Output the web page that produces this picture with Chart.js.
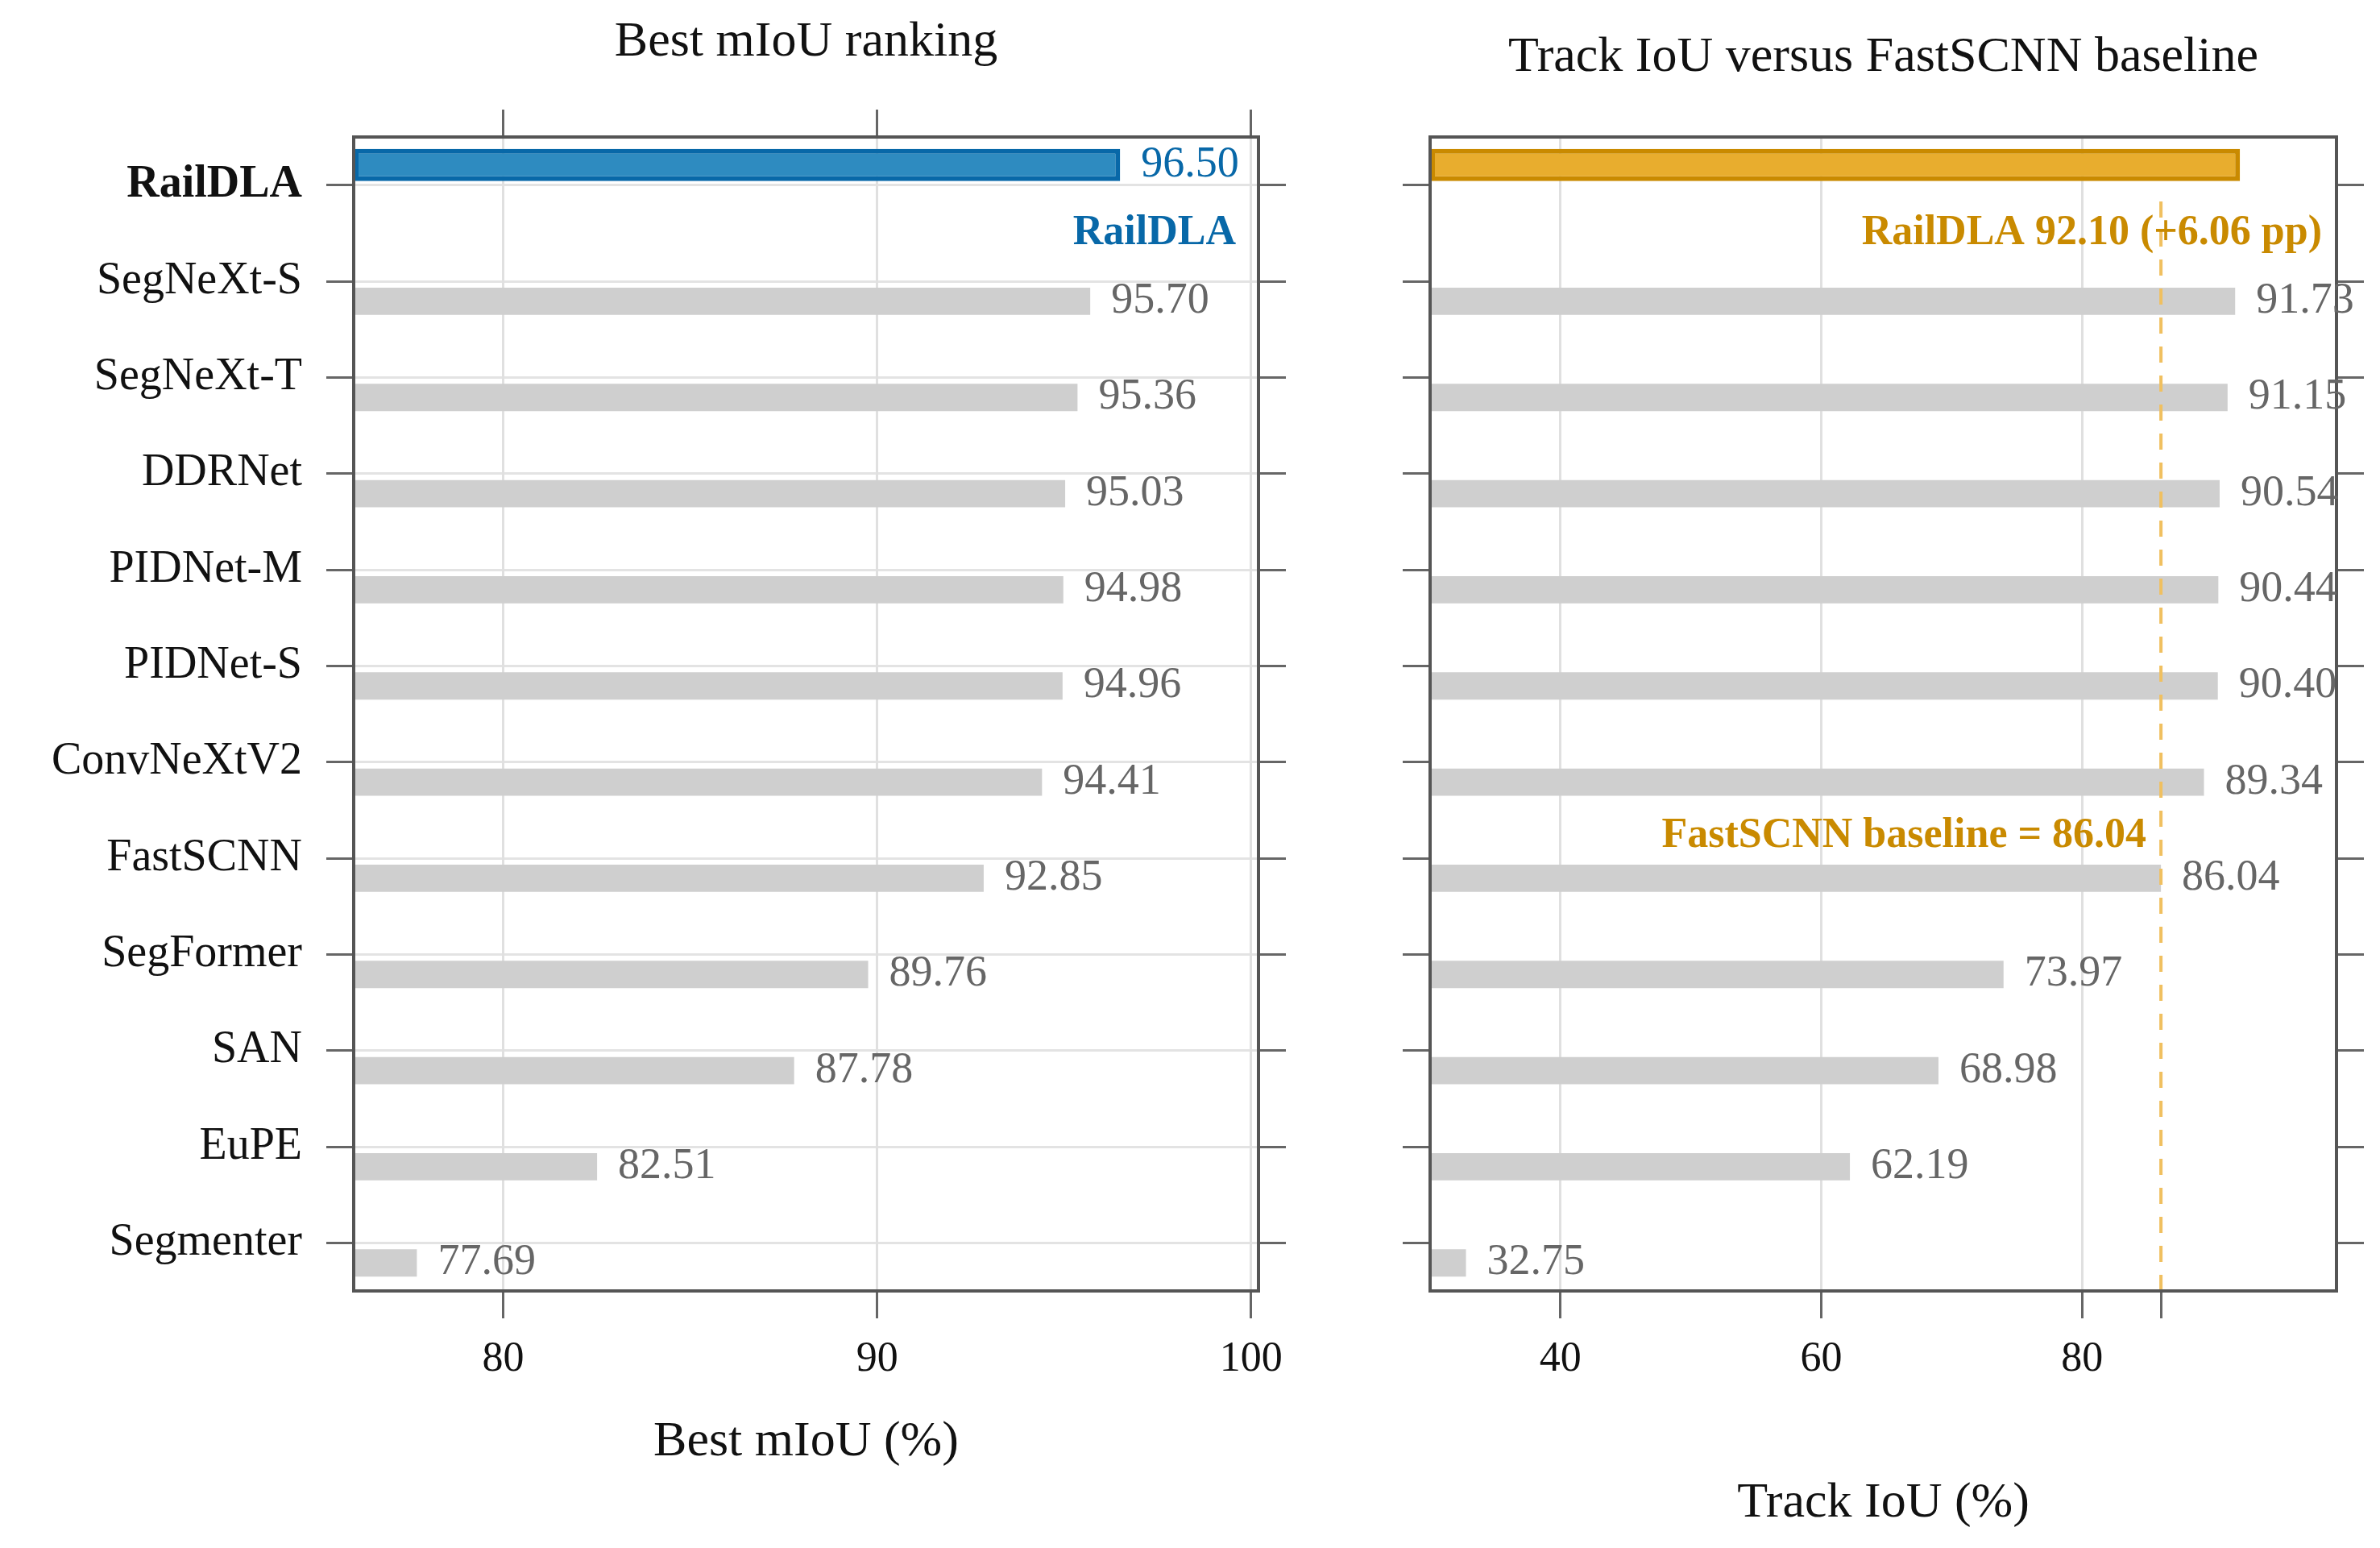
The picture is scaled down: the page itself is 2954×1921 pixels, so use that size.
<!DOCTYPE html>
<html><head><meta charset="utf-8">
<script src="https://cdn.jsdelivr.net/npm/chart.js@4"></script>
<style>html,body{margin:0;padding:0;background:#fff;width:2954px;height:1921px;overflow:hidden}
canvas{position:absolute;top:0}</style></head>
<body>
<div style="position:absolute;left:0;top:0;width:1700px;height:1921px"><canvas id="c1"></canvas></div>
<div style="position:absolute;left:1700px;top:0;width:1254px;height:1921px"><canvas id="c2"></canvas></div>
<script>
const models = ["RailDLA","SegNeXt-S","SegNeXt-T","DDRNet","PIDNet-M","PIDNet-S","ConvNeXtV2","FastSCNN","SegFormer","SAN","EuPE","Segmenter"];
const bestMIoU = [96.50,95.70,95.36,95.03,94.98,94.96,94.41,92.85,89.76,87.78,82.51,77.69];
const trackIoU = [92.10,91.73,91.15,90.54,90.44,90.40,89.34,86.04,73.97,68.98,62.19,32.75];
const mIoUTicks = [80,90,100];
const trackTicks = [40,60,80];
const baseline = 86.04;

const FONT = "'Liberation Serif', serif";
const TOP = 170, BOTTOM_H = 319;
function fixW(w){return s=>{s.width=w;};}
function fixH(h){return s=>{s.height=h;};}

function makeChart(id, vals, xmin, xmax, xticks, opt){
  const hiB = opt.hiBorder;
  const dHi = vals.map((v,i)=>i===0?[xmin,v]:null);
  const dRest = vals.map((v,i)=>i===0?null:[xmin,v]);
  const annot = {
    id:'annot'+id,
    afterDatasetsDraw(chart){
      const {ctx, chartArea:a, scales} = chart;
      const x = scales.x;
      const meta = chart.getDatasetMeta(1), metaH = chart.getDatasetMeta(0);
      ctx.save();
      if (opt.baseline){
        ctx.strokeStyle='#f0c060'; ctx.lineWidth=4; ctx.setLineDash([20,16]);
        const bx = x.getPixelForValue(opt.baseline);
        ctx.beginPath(); ctx.moveTo(bx,a.top+80); ctx.lineTo(bx,a.bottom); ctx.stroke();
        ctx.setLineDash([]);
      }
      ctx.strokeStyle='#555'; ctx.lineWidth=4;
      ctx.strokeRect(a.left,a.top,a.right-a.left,a.bottom-a.top);
      ctx.font = "54px "+FONT; ctx.textBaseline='middle'; ctx.textAlign='left';
      vals.forEach((v,i)=>{
        if(i===0){
          if(!opt.hiLabel) return;
          ctx.fillStyle=hiB;
          ctx.fillText(v.toFixed(2), x.getPixelForValue(v)+26, metaH.data[0].y);
        } else {
          ctx.fillStyle='#666';
          ctx.fillText(v.toFixed(2), x.getPixelForValue(v)+26, meta.data[i].y);
        }
      });
      ctx.font = "bold 52px "+FONT; ctx.textAlign='right'; ctx.fillStyle=hiB;
      ctx.fillText(opt.hiText, a.right-opt.hiTextPad, 290);
      if (opt.baseline){
        ctx.fillText("FastSCNN baseline = "+opt.baseline.toFixed(2), x.getPixelForValue(opt.baseline)-18, 1038);
      }
      ctx.fillStyle='#111'; ctx.textAlign='center'; ctx.font="62px "+FONT;
      const cx=(a.left+a.right)/2;
      ctx.fillText(opt.title, cx, opt.titleY);
      ctx.fillText(opt.xTitle, cx, opt.xTitleY);
      ctx.restore();
    }
  };
  return new Chart(document.getElementById(id), {
    type:'bar',
    data:{labels:models, datasets:[
      {data:dHi, backgroundColor:opt.hiFill, borderColor:hiB, borderWidth:6, borderSkipped:false, barPercentage:0.8, categoryPercentage:0.835},
      {data:dRest, backgroundColor:'#cfcfcf', borderWidth:0, barPercentage:0.68, categoryPercentage:0.835}
    ]},
    options:{
      indexAxis:'y', responsive:true, maintainAspectRatio:false, animation:false,
      devicePixelRatio:1,
      layout:{padding:0},
      plugins:{legend:{display:false}, tooltip:{enabled:false}, title:{display:false}},
      scales:{
        y:{type:'category', position:'left', offset:true, afterFit:fixW(opt.leftW),
           grid:{offset:false, display:true, drawOnChartArea:opt.hGrid, color:'#e3e3e3', lineWidth:3, tickLength:34, tickColor:'#666', tickWidth:3},
           border:{display:false},
           ticks:{display:opt.yLabels, padding:30, color:'#111',
             font:c=>({family:FONT, size:56, weight:c.index===0?'bold':'normal'})}},
        y2:{type:'category', position:'right', offset:true, afterFit:fixW(opt.rightW),
           grid:{offset:false, drawOnChartArea:false, tickLength:34, tickColor:'#666', tickWidth:3},
           border:{display:false}, ticks:{display:false}},
        x:{type:'linear', position:'bottom', min:xmin, max:xmax, afterFit:fixH(BOTTOM_H),
           afterBuildTicks:s=>{const t=xticks.map(v=>({value:v})); if(opt.baseline) t.push({value:opt.baseline}); t.sort((a,b)=>a.value-b.value); s.ticks=t;},
           grid:{color:c=>(c.tick&&c.tick.value===opt.baseline)?'rgba(0,0,0,0)':'#e0e0e0', lineWidth:3, tickLength:34, tickColor:'#666', tickWidth:3},
           border:{display:false},
           ticks:{padding:20, color:'#111', font:{family:FONT,size:52}, callback:v=>xticks.includes(v)?String(v):''}},
        x2:{type:'linear', position:'top', min:xmin, max:xmax, afterFit:fixH(TOP),
           afterBuildTicks:s=>{s.ticks=xticks.map(v=>({value:v}));},
           grid:{display:opt.topTicks, drawOnChartArea:false, tickLength:34, tickColor:'#666', tickWidth:3},
           border:{display:false}, ticks:{display:false}}
      }
    },
    plugins:[annot]
  });
}

makeChart('c1', bestMIoU, 76, 100.2, mIoUTicks, {
  hiFill:'#2e8bc0', hiBorder:'#0868a8', hiLabel:true, hiText:'RailDLA', hiTextPad:28,
  leftW:439, rightW:138, hGrid:true, yLabels:true, topTicks:true,
  title:'Best mIoU ranking', titleY:53, xTitle:'Best mIoU (%)', xTitleY:1790
});
makeChart('c2', trackIoU, 30, 99.5, trackTicks, {
  hiFill:'#e8ad2e', hiBorder:'#c98a00', hiLabel:false, hiText:'RailDLA 92.10 (+6.06 pp)', hiTextPad:18,
  leftW:75, rightW:54, hGrid:false, yLabels:false, topTicks:false, baseline:baseline,
  title:'Track IoU versus FastSCNN baseline', titleY:72, xTitle:'Track IoU (%)', xTitleY:1866
});
</script>
</body></html>
